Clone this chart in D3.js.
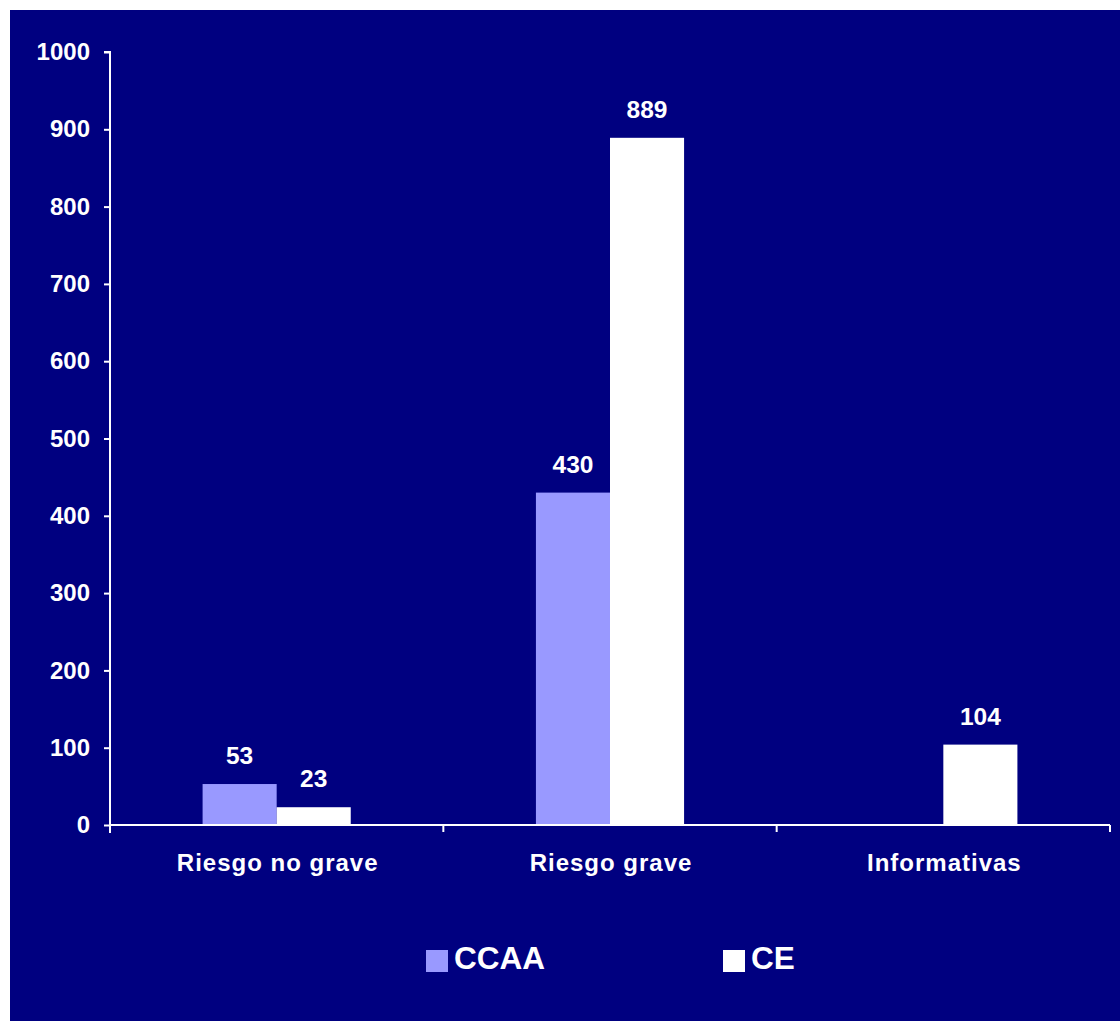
<!DOCTYPE html>
<html>
<head>
<meta charset="utf-8">
<script src="https://cdn.jsdelivr.net/npm/d3@7"></script>
<style>
  html, body { margin: 0; padding: 0; background: #ffffff; }
  svg { display: block; }
  text { font-family: "Liberation Sans", Arial, sans-serif; font-weight: bold; fill: #ffffff; }
</style>
</head>
<body>
<svg id="chart" width="1120" height="1021"></svg>
<script>
const categories = ["Riesgo no grave", "Riesgo grave", "Informativas"];
const seriesNames = ["CCAA", "CE"];
const ccaaValues = [53, 430, null];
const ceValues = [23, 889, 104];
const seriesColors = ["#9999ff", "#ffffff"];
const yTicks = [0, 100, 200, 300, 400, 500, 600, 700, 800, 900, 1000];

(function () {
const svg = d3.select("#chart");
const W = 1120, H = 1021;
const bg = "#000080";

svg.append("rect").attr("x", 10).attr("y", 10).attr("width", W - 10).attr("height", H - 10).attr("fill", bg);

const mLeft = 110, mRight = 1110, mTop = 52, mBottom = 825;

const x0 = d3.scaleBand().domain(categories).range([mLeft, mRight]).paddingInner(0).paddingOuter(0);
const x1 = d3.scaleBand().domain(seriesNames).range([0, x0.bandwidth()]).paddingInner(0).paddingOuter(1.25);
const y = d3.scaleLinear().domain([0, 1000]).range([mBottom, mTop]);

const seriesValues = [ccaaValues, ceValues];
const data = [];
categories.forEach((c, i) => {
  seriesNames.forEach((s, j) => {
    data.push({ cat: c, series: s, value: seriesValues[j][i], color: seriesColors[j] });
  });
});

const g = svg.append("g");

g.selectAll("rect.bar")
  .data(data.filter(d => d.value != null && d.value > 0))
  .enter().append("rect")
  .attr("class", "bar")
  .attr("x", d => x0(d.cat) + x1(d.series))
  .attr("y", d => y(d.value))
  .attr("width", x1.bandwidth())
  .attr("height", d => y(0) - y(d.value))
  .attr("fill", d => d.color);

g.selectAll("text.val")
  .data(data.filter(d => d.value != null && d.value > 0))
  .enter().append("text")
  .attr("class", "val")
  .attr("x", d => x0(d.cat) + x1(d.series) + x1.bandwidth() / 2)
  .attr("y", d => y(d.value) - 20)
  .attr("text-anchor", "middle")
  .attr("font-size", 24.5)
  .text(d => d.value);

const yAxis = d3.axisLeft(y).tickValues(yTicks).tickSize(6).tickPadding(14).tickFormat(d3.format("d"));
const ya = svg.append("g").attr("transform", `translate(${mLeft},0)`).call(yAxis);
ya.select(".domain").attr("stroke", "#ffffff").attr("stroke-width", 2).attr("d", `M-6,${mTop}H0V${mBottom + 8}`);
ya.selectAll(".tick line").attr("stroke", "#ffffff").attr("stroke-width", 2);
ya.selectAll(".tick text").attr("fill", "#ffffff").attr("font-size", 24).attr("font-family", "Liberation Sans, Arial, sans-serif").attr("font-weight", "bold");

svg.append("line").attr("x1", mLeft).attr("x2", mRight).attr("y1", mBottom).attr("y2", mBottom)
  .attr("stroke", "#ffffff").attr("stroke-width", 2);
const bounds = categories.map(c => x0(c) + x0.bandwidth());
svg.selectAll("line.xt").data(bounds).enter().append("line")
  .attr("x1", d => d).attr("x2", d => d).attr("y1", mBottom).attr("y2", mBottom + 7)
  .attr("stroke", "#ffffff").attr("stroke-width", 2);

svg.selectAll("text.cat").data(categories).enter().append("text")
  .attr("x", d => x0(d) + x0.bandwidth() / 2 + 1)
  .attr("y", 871)
  .attr("text-anchor", "middle")
  .attr("font-size", 24)
  .attr("letter-spacing", 1)
  .text(d => d);

const legendX = [426, 723];
const lg = svg.selectAll("g.leg").data(seriesNames).enter().append("g")
  .attr("transform", (d, i) => `translate(${legendX[i]},0)`);
lg.append("rect").attr("x", 0).attr("y", 950).attr("width", 22).attr("height", 22)
  .attr("fill", (d, i) => seriesColors[i]);
lg.append("text").attr("x", 28).attr("y", 969).attr("font-size", 31.5).text(d => d);
})();
</script>
</body>
</html>
